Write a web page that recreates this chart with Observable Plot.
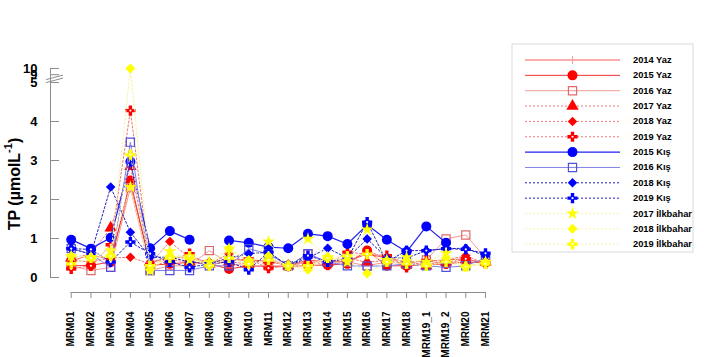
<!DOCTYPE html>
<html><head><meta charset="utf-8">
<script src="https://cdn.jsdelivr.net/npm/d3@7"></script>
<script src="https://cdn.jsdelivr.net/npm/@observablehq/plot@0.6"></script>
<style>
body{margin:0;background:#fff;}
#chart{position:relative;width:704px;height:357px;}
svg{font-family:"Liberation Sans",Arial,sans-serif;}
</style>
</head><body><div id="chart"></div>
<script>
// ---------- data ----------
const stations = ["MRM01","MRM02","MRM03","MRM04","MRM05","MRM06","MRM07","MRM08","MRM09","MRM10","MRM11",
  "MRM12","MRM13","MRM14","MRM15","MRM16","MRM17","MRM18","MRM19_1","MRM19_2","MRM20","MRM21"];
const yTickValues = [0,1,2,3,4,5,9,10];
const yTickLabels = ["0","1","2","3","4","5","9","10"];
const seriesNames = ["2014 Yaz","2015 Yaz","2016 Yaz","2017 Yaz","2018 Yaz","2019 Yaz",
  "2015 Kış","2016 Kış","2018 Kış","2019 Kış","2017 İlkbahar","2018 İlkbahar","2019 İlkbahar"];

const yaz2014 = [0.42,0.59,0.45,2.35,0.39,0.52,0.50,0.40,0.45,0.45,0.42,0.30,0.45,0.40,0.42,0.60,0.50,0.40,0.42,0.45,0.48,0.35];
const yaz2015 = [0.30,0.31,0.40,2.49,0.31,0.35,0.39,0.35,0.22,0.30,0.28,0.28,0.31,0.32,0.35,0.69,0.30,0.30,0.33,0.35,0.40,0.38];
const yaz2016 = [0.30,0.18,0.26,2.30,0.18,0.30,0.30,0.69,0.35,0.30,0.30,0.30,0.60,0.40,0.40,0.30,0.40,0.35,0.45,0.99,1.09,0.50];
const yaz2017 = [0.50,0.60,1.27,2.85,0.40,0.45,0.40,0.35,0.40,0.35,0.45,0.30,0.40,0.40,0.50,0.39,0.45,0.35,0.30,0.40,0.45,0.40];
const yaz2018 = [0.44,0.40,0.50,0.52,0.35,0.92,0.50,0.35,0.61,0.35,0.48,0.30,0.39,0.35,0.39,0.69,0.48,0.39,0.33,0.44,0.56,0.35];
const yaz2019 = [0.22,0.30,0.84,4.28,0.27,0.44,0.61,0.30,0.44,0.48,0.24,0.30,0.31,0.32,0.65,0.60,0.56,0.26,0.44,0.35,0.48,0.35];
const kis2015 = [0.97,0.74,1.02,2.97,0.75,1.19,0.97,null,0.95,0.89,0.78,0.75,1.12,1.06,0.86,1.35,0.97,0.66,1.31,0.89,null,null];
const kis2016 = [0.74,0.60,0.26,3.47,0.18,0.18,0.18,0.30,0.30,0.74,0.60,0.30,0.61,0.40,0.30,0.29,0.30,0.35,0.30,0.26,0.30,0.50];
const kis2018 = [0.74,0.60,2.32,1.16,0.52,0.52,0.40,0.35,0.50,0.61,0.65,0.30,0.50,0.75,0.50,0.99,0.50,0.50,0.69,0.74,0.75,0.55];
const kis2019 = [0.74,0.72,0.40,0.91,0.61,0.40,0.26,0.35,0.40,0.20,0.65,0.30,0.56,0.40,0.48,1.42,0.40,0.69,0.69,0.74,0.72,0.62];
const ilk2017 = [0.55,0.52,0.69,2.32,0.18,0.67,0.45,0.40,0.74,0.40,0.92,0.30,0.99,0.52,0.40,1.23,0.45,0.52,0.40,0.62,0.28,0.40];
const ilk2018 = [0.55,0.52,0.55,10.0,0.20,0.55,0.50,0.30,0.74,0.45,0.55,0.30,0.20,0.52,0.45,0.10,0.40,0.45,0.35,0.50,0.28,0.40];
const ilk2019 = [0.35,0.50,0.55,3.15,0.30,0.50,0.55,0.30,0.50,0.35,0.45,0.30,0.30,0.50,0.55,0.60,0.40,0.35,0.30,0.40,0.28,0.35];
const seriesValues = [yaz2014,yaz2015,yaz2016,yaz2017,yaz2018,yaz2019,kis2015,kis2016,kis2018,kis2019,ilk2017,ilk2018,ilk2019];

// ---------- styles ----------
const RED="#ff0000", PINK="#f29a9a", BLUE="#0000ff", LBLUE="#8080e8", NAVY="#2020b8", YEL="#ffff00", LYEL="#f6f4a8";
const styles = [
  {line:"#f25a5a", w:1, dash:null, sym:null},
  {line:"#f53030", w:1, dash:null, sym:"circle", r:5, fill:RED},
  {line:PINK, w:1, dash:null, sym:"square", r:4.6, fill:"none", stroke:"#e06a6a"},
  {line:"#f07878", w:1, dash:"2,2", sym:"triangle", r:4.6, fill:RED},
  {line:"#f07878", w:1, dash:"2,2", sym:"diamond2", r:4.3, fill:RED},
  {line:"#f07878", w:1, dash:"2,2", sym:"cross", r:4.3, fill:RED, hole:true},
  {line:"#2020f0", w:1.2, dash:null, sym:"circle", r:5, fill:BLUE},
  {line:LBLUE, w:1, dash:null, sym:"square", r:4.6, fill:"none", stroke:"#5050d8"},
  {line:NAVY, w:1, dash:"2,2", sym:"diamond2", r:4.3, fill:BLUE},
  {line:NAVY, w:1, dash:"2,2", sym:"cross", r:4.3, fill:BLUE, hole:true},
  {line:LYEL, w:1, dash:"2,2", sym:"star", r:4, fill:YEL},
  {line:LYEL, w:1, dash:"2,2", sym:"diamond2", r:4.5, fill:YEL},
  {line:LYEL, w:1, dash:"2,2", sym:"cross", r:4.3, fill:YEL, hole:true}
];

// broken y axis: 5..9 compressed
function brk(v){
  if (v == null) return NaN;
  if (v <= 5) return v;
  if (v <= 9) return 5 + (v - 5) * 0.05;
  return 5.2 + (v - 9) * 0.16;
}

const rows = [];
seriesNames.forEach((name, s) => seriesValues[s].forEach((v, i) => rows.push({series:name, s, i, station:stations[i], v})));

const marks = [];
marks.push(Plot.ruleX([-1.05], {y1: 0, y2: brk(10), stroke:"#8c8c8c", strokeWidth:1}));
marks.push(Plot.ruleY([-15/39], {x1: 0, x2: stations.length - 1, stroke:"#8c8c8c", strokeWidth:1}));
marks.push(Plot.axisY(yTickValues.map(brk), {tickSize: 9, dx: 9, tickPadding: 13, stroke:"#8c8c8c", label: null,
  tickFormat: d => yTickLabels[yTickValues.map(brk).findIndex(t => Math.abs(t - d) < 1e-9)],
  fill:"#000", fontWeight:"bold", fontSize:13}));
marks.push(Plot.axisX(d3.range(stations.length), {tickSize: 6, stroke:"#8c8c8c", tickFormat: () => "", label: null}));
marks.push(Plot.axisX(d3.range(stations.length), {tickSize: 0, tickPadding: 19, tickRotate: -90, label: null,
  tickFormat: i => stations[i], fill:"#000", fontWeight:"bold", fontSize:10}));

seriesNames.forEach((name, s) => {
  const st = styles[s];
  const data = rows.filter(d => d.s === s);
  marks.push(Plot.line(data, {x:"i", y: d => brk(d.v), stroke: st.line, strokeWidth: st.w,
    strokeDasharray: st.dash || undefined}));
  if (st.sym) {
    const pts = data.filter(d => d.v != null);
    marks.push(Plot.dot(pts, {x:"i", y: d => brk(d.v), symbol: st.sym, r: st.r,
      fill: st.fill, stroke: st.stroke || "none", strokeWidth: 1.2}));
    if (st.hole) marks.push(Plot.dot(pts, {x:"i", y: d => brk(d.v), r: 1.1, fill:"#fff"}));
  }
});

const plot = Plot.plot({
  width: 704, height: 357,
  marginLeft: 50, marginRight: 219, marginTop: 67, marginBottom: 65,
  style: {fontFamily: "'Liberation Sans', Arial, sans-serif", background: "#fff", overflow: "visible"},
  x: {type: "linear", domain: [-1.05, stations.length - 1], axis: null, label: null},
  y: {domain: [-15/39, 210/39], axis: null, label: null},
  marks
});
document.getElementById("chart").appendChild(plot);

// ---------- extras: axis break, y title, legend ----------
const svg = d3.select(plot);
const ys = plot.scale("y");
const ymid = ys.apply(brk(7));
[[1.5, -3], [4.5, 0]].forEach(([a, b]) => {
  svg.append("line").attr("x1", 46).attr("x2", 63).attr("y1", ymid + a).attr("y2", ymid + b)
    .attr("stroke", "#8c8c8c").attr("stroke-width", 1);
});

const yt = svg.append("text").attr("transform", "translate(14,184) rotate(-90)")
  .attr("text-anchor", "middle").attr("dominant-baseline", "central")
  .attr("font-weight", "bold").attr("font-size", 16).attr("fill", "#000");
yt.append("tspan").text("TP (µmolL");
yt.append("tspan").attr("font-size", 11).attr("dy", -6).text("-1");
yt.append("tspan").attr("dy", 6).text(")");

const lg = svg.append("g").attr("text-anchor", "start");
lg.append("rect").attr("x", 512).attr("y", 44).attr("width", 181).attr("height", 208)
  .attr("fill", "#fff").attr("stroke", "#e6e6e6").attr("stroke-width", 1.5);
const symMap = {circle: d3.symbolCircle, square: d3.symbolSquare, triangle: d3.symbolTriangle,
  diamond2: d3.symbolDiamond2, cross: d3.symbolCross, star: d3.symbolStar};
seriesNames.forEach((name, s) => {
  const st = styles[s];
  const y = 60 + s * 15.35;
  lg.append("line").attr("x1", 525).attr("x2", 620).attr("y1", y).attr("y2", y)
    .attr("stroke", st.line).attr("stroke-width", st.w).attr("stroke-dasharray", st.dash);
  if (st.sym) {
    lg.append("path").attr("transform", `translate(572.5,${y})`)
      .attr("d", d3.symbol(symMap[st.sym], Math.PI * st.r * st.r)())
      .attr("fill", st.fill).attr("stroke", st.stroke || "none").attr("stroke-width", 1.2);
    if (st.hole) lg.append("circle").attr("cx", 572.5).attr("cy", y).attr("r", 1.1).attr("fill", "#fff");
  } else {
    lg.append("line").attr("x1", 572.5).attr("x2", 572.5).attr("y1", y - 4).attr("y2", y + 4)
      .attr("stroke", "#f0a0a0").attr("stroke-width", 1);
  }
  lg.append("text").attr("x", 633).attr("y", y).attr("dominant-baseline", "central")
    .attr("text-anchor", "start")
    .attr("font-size", 9.3).attr("font-weight", "bold").attr("fill", "#000").text(name);
});
</script>
</body></html>
